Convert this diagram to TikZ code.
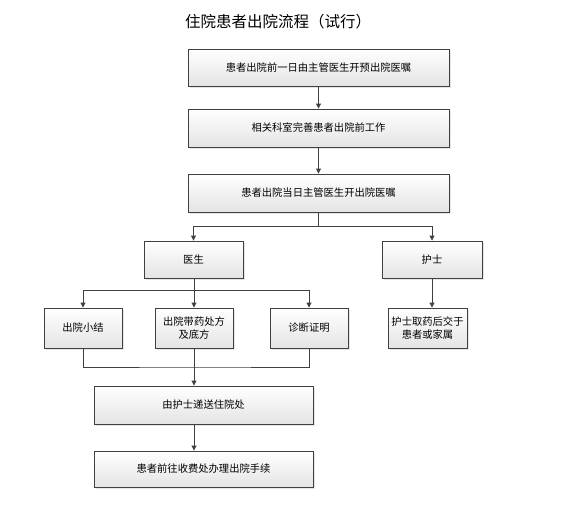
\documentclass[tikz,border=0pt]{standalone}
\usepackage{fontspec}
\setmainfont{Noto Sans CJK SC}
\usetikzlibrary{arrows.meta,positioning,shadows,calc}
\definecolor{edge}{RGB}{64,64,64}
\definecolor{shade}{RGB}{228,228,228}
\tikzset{
  >={Triangle[length=5pt,width=5pt]},
  box/.style={draw=edge,line width=0.9pt,top color=white,bottom color=shade,
    minimum width=#1,align=center,font=\fontsize{10.3}{13}\selectfont,
    inner sep=2pt,drop shadow={opacity=0.2,shadow xshift=1.5pt,shadow yshift=-1.5pt}},
  box/.default=261pt,
  flow/.style={->,line width=0.9pt,draw=edge},
  link/.style={line width=0.9pt,draw=edge},
}
\begin{document}
\begin{tikzpicture}[x=1pt,y=-1pt]
  \useasboundingbox[fill=white] (0,0) rectangle (580,527);
  \node[font=\fontsize{15.5}{18}\selectfont] (title) at (278,22) {住院患者出院流程（试行）};
  % main column
  \node[box,minimum height=37pt] (pre) at (318.5,67.5) {患者出院前一日由主管医生开预出院医嘱};
  \node[box,minimum height=38pt] (prep) at (318.5,128) {相关科室完善患者出院前工作};
  \node[box,minimum height=38pt] (order) at (318.5,193) {患者出院当日主管医生开出院医嘱};
  \node[box=99pt,minimum height=37pt] (doctor) at (193.5,259.5) {医生};
  \node[box=100pt,minimum height=37pt] (nurse) at (432,259.5) {护士};
  % doctor's papers
  \node[box=78pt,minimum height=40pt] (summary) at (83,328) {出院小结};
  \node[box=78pt,minimum height=40pt] (recipe) at (194,328) {出院带药处方\\及底方};
  \node[box=78pt,minimum height=40pt] (cert) at (309,328) {诊断证明};
  \node[box=79pt,minimum height=40pt] (drug) at (427.5,328) {护士取药后交于\\患者或家属};
  \node[box=219pt,minimum height=38pt] (send) at (203.5,405) {由护士递送住院处};
  \node[box=219pt,minimum height=36pt] (pay) at (203.5,469) {患者前往收费处办理出院手续};
  \coordinate (j1) at (318.5,226);
  \coordinate (j2) at (194,290);
  \coordinate (j3) at (194,367);
  \draw[flow] (pre) -- (prep);
  \draw[flow] (prep) -- (order);
  \draw[link] (order) -- (j1);
  \draw[flow] (j1) -| (doctor);
  \draw[flow] (j1) -| (nurse);
  \draw[link] (doctor.south -| j2) -- (j2);
  \draw[flow] (j2) -| (summary);
  \draw[flow] (j2) -- (recipe);
  \draw[flow] (j2) -| (cert);
  \draw[flow] (nurse) -- (nurse |- drug.north);
  \draw[link] (summary) |- (j3) -| (cert);
  \draw[link] (recipe) -- (j3);
  \draw[flow] (j3) -- (j3 |- send.north);
  \draw[flow] (send.south -| j3) -- (j3 |- pay.north);
\end{tikzpicture}
\end{document}
